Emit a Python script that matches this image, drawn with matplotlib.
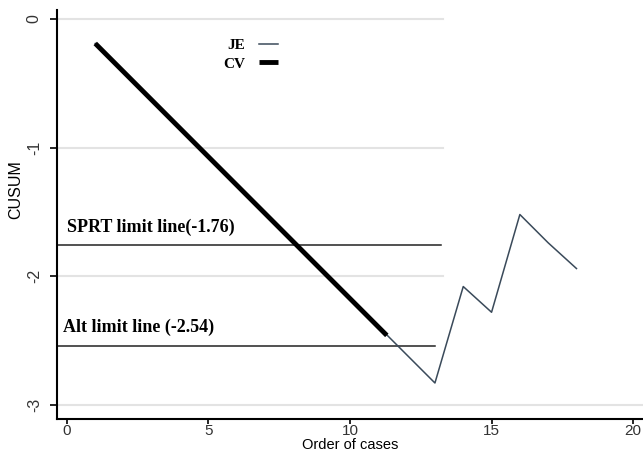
import matplotlib
matplotlib.use('Agg')
import matplotlib.pyplot as plt

# CUSUM data
je_x = [1, 13, 14, 15, 16, 17, 18]
je_y = [-0.19, -2.83, -2.08, -2.28, -1.52, -1.74, -1.94]
cv_x = [1, 11.3]
cv_y = [-0.19, -2.46]

sprt_limit = -1.76
alt_limit = -2.54
limit_end = 13.1
grid_levels = [0, -1, -2]

x_ticks = [0, 5, 10, 15, 20]
y_ticks = [0, -1, -2, -3]

fig = plt.figure(figsize=(6.43, 4.55), dpi=100)
ax = fig.add_axes([0.0887, 0.0791, 0.9113, 0.8989])

# partial grid lines (as in the original)
for g in grid_levels:
    ax.plot([-0.35, 13.3], [g, g], color='#e3e3e3', lw=1.5, zorder=1)
ax.axhline(-3, color='#e3e3e3', lw=1.5, zorder=1)

# limit lines
ax.plot([-0.35, limit_end + 0.1], [sprt_limit, sprt_limit], color='#222222', lw=1.1, zorder=2)
ax.plot([-0.35, limit_end - 0.1], [alt_limit, alt_limit], color='#222222', lw=1.1, zorder=2)

ax.text(0.0, sprt_limit + 0.105, 'SPRT limit line(-1.76)', family='Liberation Serif',
        fontweight='bold', fontsize=13, va='baseline')
ax.text(-0.13, alt_limit + 0.11, 'Alt limit line (-2.54)', family='Liberation Serif',
        fontweight='bold', fontsize=13, va='baseline')

ax.plot(je_x, je_y, color='#3a4a5a', lw=1.1, label='JE', zorder=3)
ax.plot(cv_x, cv_y, color='black', lw=3.5, label='CV', zorder=4, solid_capstyle='butt')

ax.legend(loc='upper left', bbox_to_anchor=(0.283, 0.93), frameon=False, markerfirst=False,
          prop={'family': 'Liberation Serif', 'weight': 'bold', 'size': 11},
          handlelength=1.3, handletextpad=0.9, labelspacing=0.3, borderpad=0,
          borderaxespad=0)

ax.set_xlim(-0.35, 20.35)
ax.set_ylim(-3.11, 0.07)
ax.set_xticks(x_ticks)
ax.set_yticks(y_ticks)
ax.set_yticklabels([str(t) for t in y_ticks], rotation=90, va='center')

for s in ['top', 'right']:
    ax.spines[s].set_visible(False)
for s in ['left', 'bottom']:
    ax.spines[s].set_linewidth(1.5)
ax.tick_params(direction='out', length=5, width=1.2, labelsize=11.5, labelcolor='#333333')
ax.tick_params(axis='x', length=3.5, pad=0.2, labelsize=11)
ax.tick_params(axis='y', pad=6)
for lab in ax.get_xticklabels() + ax.get_yticklabels():
    lab.set_family('Liberation Sans')

ax.set_xlabel('Order of cases', family='Liberation Sans', fontsize=10.5, labelpad=0)
ax.set_ylabel('CUSUM', family='Liberation Sans', fontsize=11.5)
ax.yaxis.set_label_coords(-0.058, 0.56)

fig.savefig('out.png', dpi=100, facecolor='white')
